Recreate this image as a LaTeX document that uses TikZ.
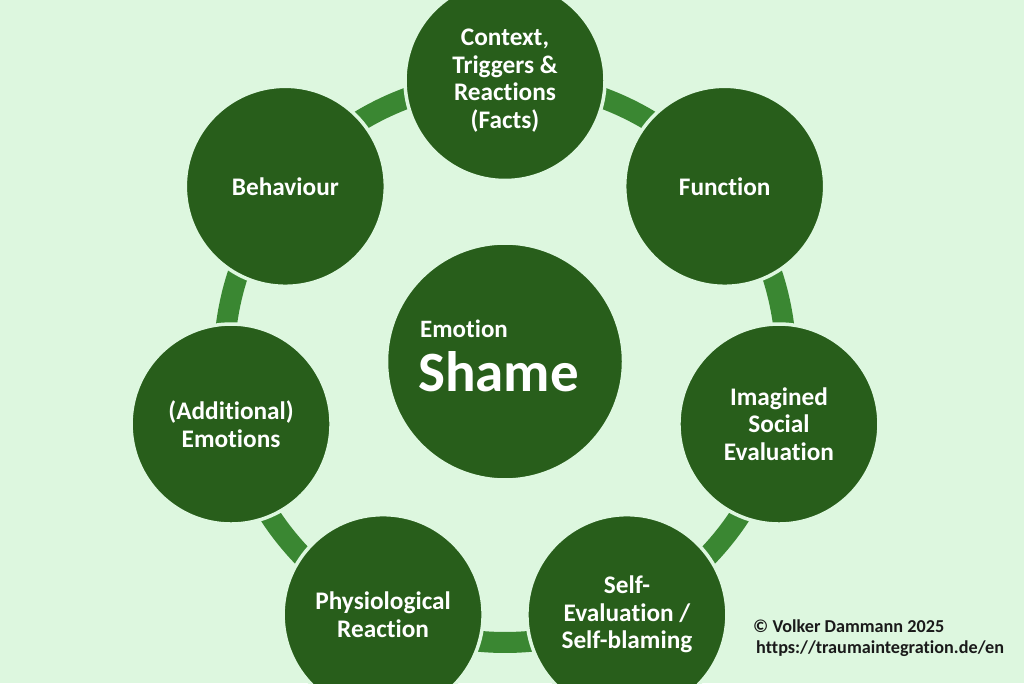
\documentclass[tikz,border=0pt]{standalone}
\usepackage{fontspec}
\setmainfont{Carlito}[Ligatures=CommonOff]
\definecolor{bgc}{HTML}{DDF7DF}
\definecolor{dkg}{HTML}{285E1B}
\definecolor{arcg}{HTML}{3A8732}
\definecolor{txtc}{HTML}{1A1A1A}
\pgfdeclarelayer{back}
\pgfdeclarelayer{ring}
\pgfsetlayers{back,ring,main}
\begin{document}
\begin{tikzpicture}[x=1pt,y=1pt,
  outer/.style={circle,fill=dkg,draw=bgc,line width=3.5pt,minimum size=200pt,inner sep=0pt,
    text=white,align=center,font=\bfseries\fontsize{25.3}{27.5}\selectfont},
  conn/.style={draw=arcg,line width=21pt},
  lbl/.style={anchor=base west,inner sep=0pt,text=white,font=\bfseries\fontsize{25}{28}\selectfont},
  copyr/.style={anchor=base west,inner sep=0pt,text=txtc,font=\bfseries\fontsize{18.2}{21}\selectfont}]
\useasboundingbox (0,0) rectangle (1024,683);
\begin{pgfonlayer}{back}
  \fill[bgc] (0,0) rectangle (1024,683);
\end{pgfonlayer}
\coordinate (C) at (505,321.5);
\node[outer,minimum size=237pt] (shame) at (C) {};
\node[lbl] (emo) at ([shift={(-85,23.5)}]C) {Emotion};
\node[lbl,font=\bfseries\fontsize{57}{60}\selectfont] (shm) at ([shift={(-87,-30.5)}]C) {Shame};
\node[outer] (n1) at ([shift={(90:281pt)}]C) {Context,\\Triggers \&\\Reactions\\(Facts)};
\node[outer] (n2) at ([shift={(38.571:281pt)}]C) {Function};
\node[outer] (n3) at ([shift={(-12.857:281pt)}]C) {Imagined\\Social\\Evaluation};
\node[outer] (n4) at ([shift={(-64.286:281pt)}]C) {Self-\\Evaluation /\\Self-blaming};
\node[outer] (n5) at ([shift={(-115.714:281pt)}]C) {Physiological\\Reaction};
\node[outer] (n6) at ([shift={(-167.143:281pt)}]C) {(Additional)\\Emotions};
\node[outer] (n7) at ([shift={(-218.571:281pt)}]C) {Behaviour};
\begin{pgfonlayer}{ring}
  \draw[conn] (n1.center) arc[start angle=90,end angle=38.571,radius=281pt];
  \draw[conn] (n2.center) arc[start angle=38.571,end angle=-12.857,radius=281pt];
  \draw[conn] (n3.center) arc[start angle=-12.857,end angle=-64.286,radius=281pt];
  \draw[conn] (n4.center) arc[start angle=-64.286,end angle=-115.714,radius=281pt];
  \draw[conn] (n5.center) arc[start angle=-115.714,end angle=-167.143,radius=281pt];
  \draw[conn] (n6.center) arc[start angle=-167.143,end angle=-218.571,radius=281pt];
  \draw[conn] (n7.center) arc[start angle=-218.571,end angle=-270,radius=281pt];
\end{pgfonlayer}
\node[copyr] (cp1) at (753,51) {© Volker Dammann 2025};
\node[copyr] (cp2) at (756,30) {https://traumaintegration.de/en};
\end{tikzpicture}
\end{document}
